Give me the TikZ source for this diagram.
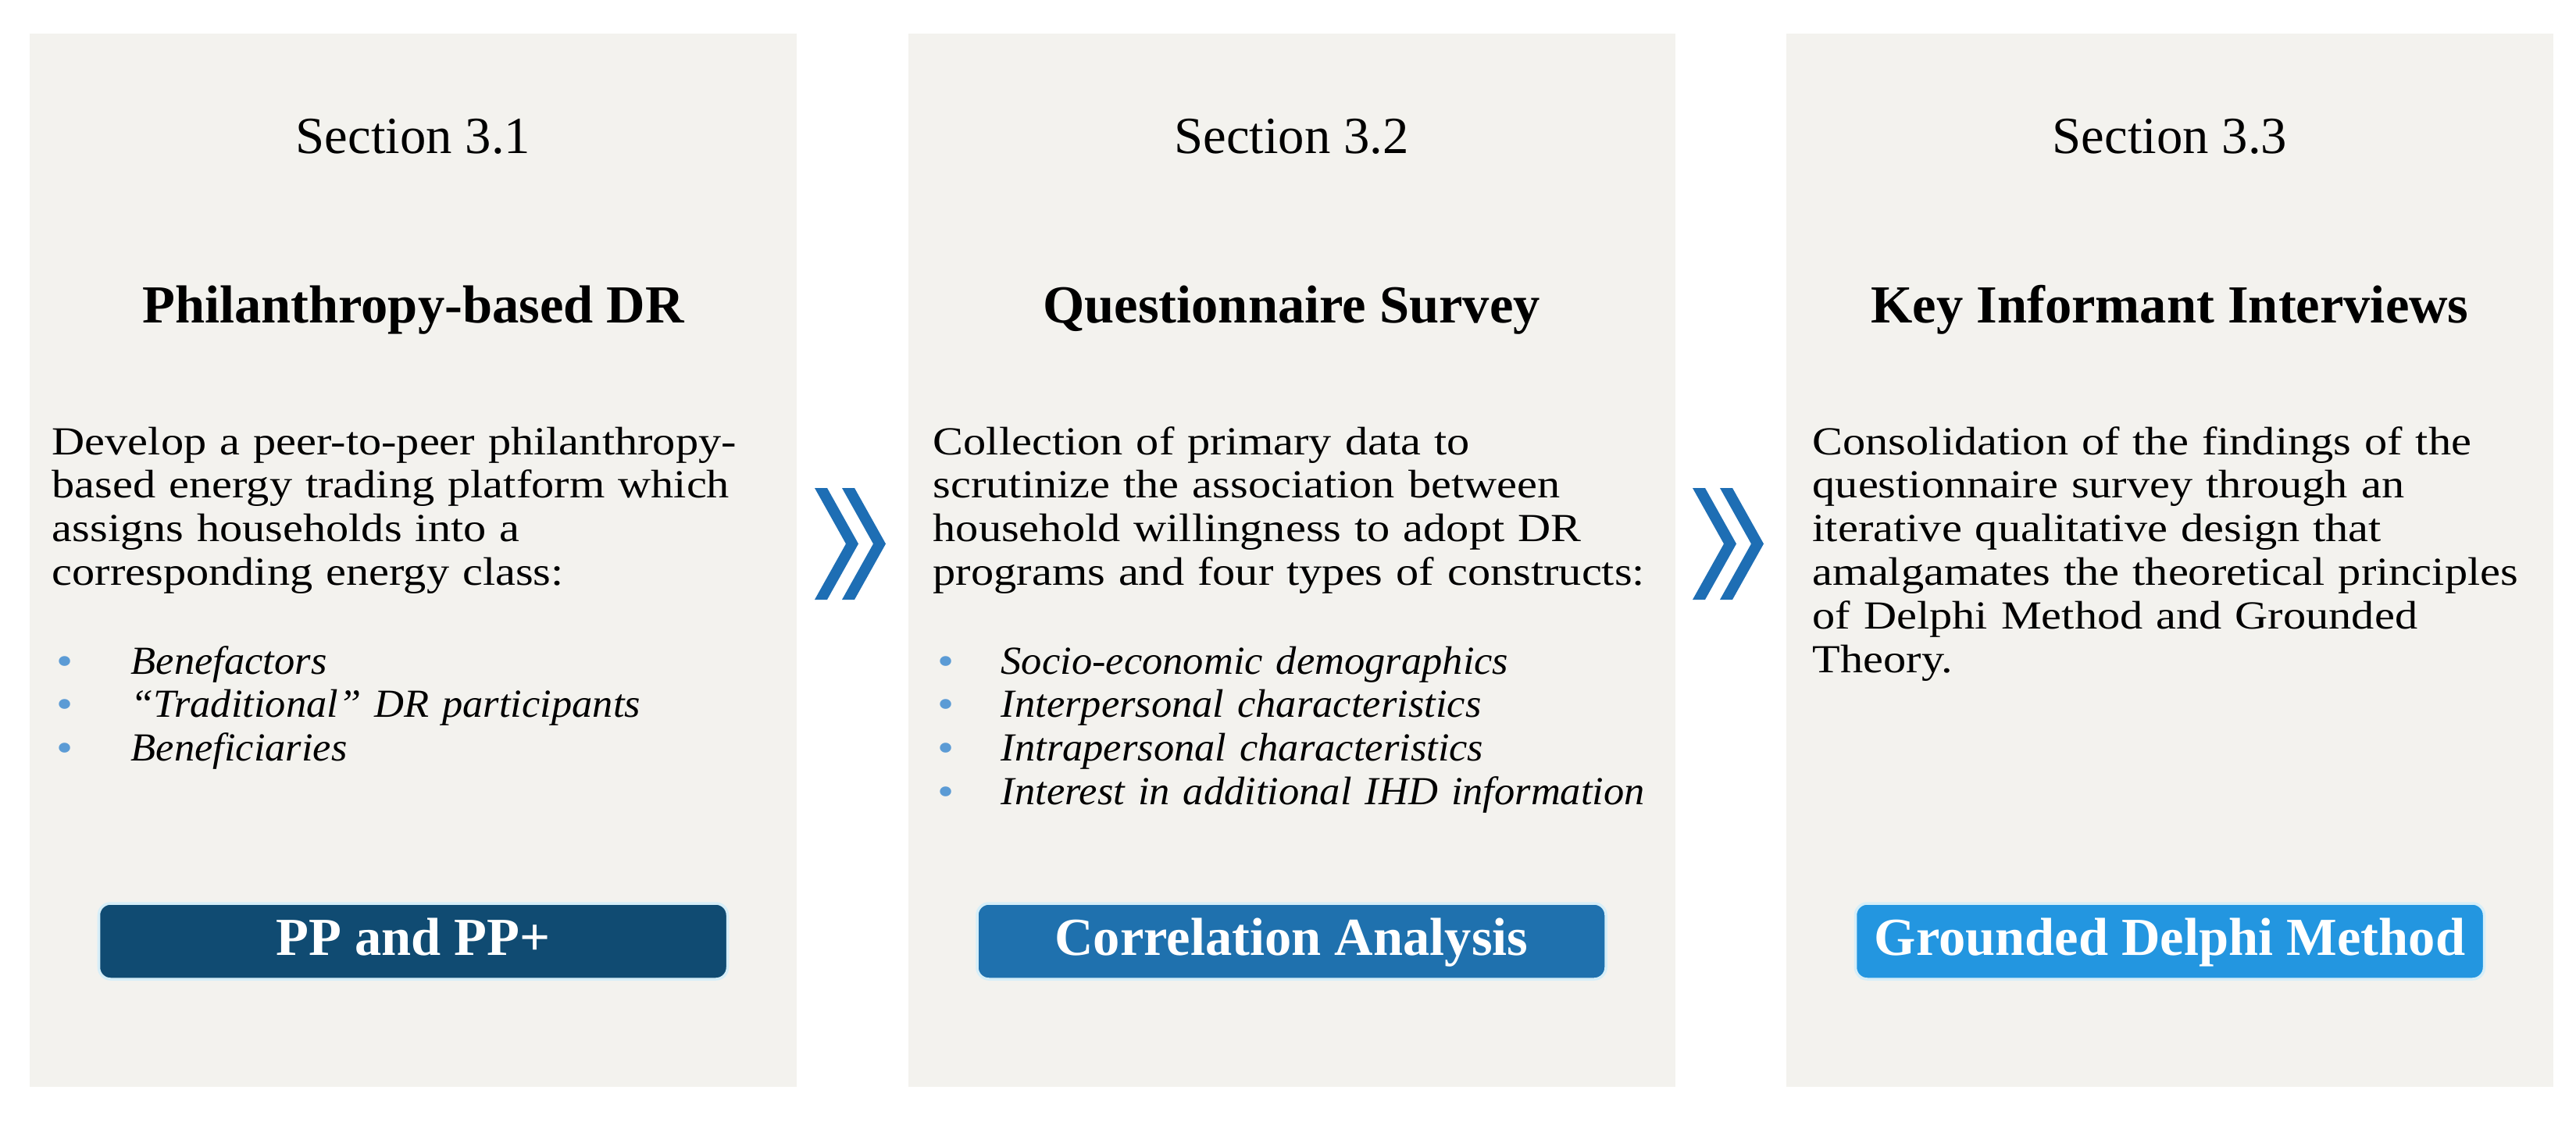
\documentclass[tikz,border=0pt]{standalone}
\usepackage{fontspec}
\setmainfont{Liberation Serif}
\newfontfamily\bodyfont{Liberation Serif}[FakeStretch=1.145,ItalicFeatures={FakeStretch=1.03}]
\definecolor{panelgray}{HTML}{F3F2EE}
\definecolor{navyblue}{HTML}{104B72}
\definecolor{midblue}{HTML}{1F71AE}
\definecolor{skyblue}{HTML}{2396E0}
\definecolor{chevblue}{HTML}{1E6EB4}
\definecolor{bulletblue}{HTML}{5B9BD5}
\definecolor{btnedge}{HTML}{D6EEF8}
\newcommand{\bluedot}{{\color{bulletblue}\fontsize{15pt}{15pt}\selectfont\raisebox{-0.3pt}{•}}}

\begin{document}
\begin{tikzpicture}[
	panel/.style={fill=panelgray, minimum width=9.82cm, minimum height=13.49cm, inner sep=0},
	sectitle/.style={anchor=base, inner sep=0, font=\fontsize{19pt}{22pt}\selectfont},
	headline/.style={anchor=base, inner sep=0, font=\bfseries\fontsize{19.5pt}{23pt}\selectfont},
	bodytext/.style={anchor=base west, inner sep=0, text width=10cm, align=left, font=\bodyfont\fontsize{14.5pt}{15.9pt}\selectfont},
	methodbtn/.style={rounded corners=0.15cm, minimum width=8.05cm, minimum height=0.97cm, text height=0.5cm, text depth=0.15cm, inner sep=0, text=white, draw=btnedge, line width=1pt, font=\bfseries\fontsize{19.5pt}{23pt}\selectfont}
]
	\fill[white] (0,0) rectangle (32.98,-14.37);
	\useasboundingbox (0,0) rectangle (32.98,-14.37);
	% three panels
	\node[panel] (Panel Philanthropy) at (5.29, -7.175) {};
	\node[panel] (Panel Questionnaire) at (16.535, -7.175) {};
	\node[panel] (Panel Interviews) at (27.78, -7.175) {};
	% section numbers and headlines
	\node[sectitle] (Section 3.1) at (5.29, -1.96) {Section 3.1};
	\node[sectitle] (Section 3.2) at (16.535, -1.96) {Section 3.2};
	\node[sectitle] (Section 3.3) at (27.78, -1.96) {Section 3.3};
	\node[headline] (Philanthropy) at (5.29, -4.13) {Philanthropy-based DR};
	\node[headline] (Questionnaire) at (16.535, -4.13) {Questionnaire Survey};
	\node[headline] (Interviews) at (27.78, -4.13) {Key Informant Interviews};
	% descriptions
	\node[bodytext] (Philanthropy Text) at (0.66, -5.82) {Develop a peer-to-peer philanthropy-\\based energy trading platform which\\assigns households into a\\corresponding energy class:};
	\node[bodytext] (Philanthropy List) at (0.72, -8.63) {\makebox[0.95cm][l]{\bluedot}\textit{Benefactors}\\\makebox[0.95cm][l]{\bluedot}\textit{“Traditional” DR participants}\\\makebox[0.95cm][l]{\bluedot}\textit{Beneficiaries}};
	\node[bodytext] (Questionnaire Text) at (11.94, -5.82) {Collection of primary data to\\scrutinize the association between\\household willingness to adopt DR\\programs and four types of constructs:};
	\node[bodytext] (Questionnaire List) at (12.00, -8.63) {\makebox[0.81cm][l]{\bluedot}\textit{Socio-economic demographics}\\\makebox[0.81cm][l]{\bluedot}\textit{Interpersonal characteristics}\\\makebox[0.81cm][l]{\bluedot}\textit{Intrapersonal characteristics}\\\makebox[0.81cm][l]{\bluedot}\textit{Interest in additional IHD information}};
	\node[bodytext] (Interviews Text) at (23.20, -5.82) {Consolidation of the findings of the\\questionnaire survey through an\\iterative qualitative design that\\amalgamates the theoretical principles\\of Delphi Method and Grounded\\Theory.};
	% methods
	\node[methodbtn, fill=navyblue] (PP) at (5.29, -12.055) {PP and PP+};
	\node[methodbtn, fill=midblue] (Correlation) at (16.535, -12.055) {Correlation Analysis};
	\node[methodbtn, fill=skyblue] (Grounded Delphi) at (27.78, -12.055) {Grounded Delphi Method};
	% double chevrons between the panels
	\fill[chevblue] (10.43,-6.25) -- (10.59,-6.25) -- (10.99,-6.965) -- (10.59,-7.68) -- (10.43,-7.68) -- (10.83,-6.965) -- cycle;
	\fill[chevblue] (10.78,-6.25) -- (10.94,-6.25) -- (11.34,-6.965) -- (10.94,-7.68) -- (10.78,-7.68) -- (11.18,-6.965) -- cycle;
	\fill[chevblue] (21.67,-6.25) -- (21.83,-6.25) -- (22.23,-6.965) -- (21.83,-7.68) -- (21.67,-7.68) -- (22.07,-6.965) -- cycle;
	\fill[chevblue] (22.02,-6.25) -- (22.18,-6.25) -- (22.58,-6.965) -- (22.18,-7.68) -- (22.02,-7.68) -- (22.42,-6.965) -- cycle;
\end{tikzpicture}
\end{document}
